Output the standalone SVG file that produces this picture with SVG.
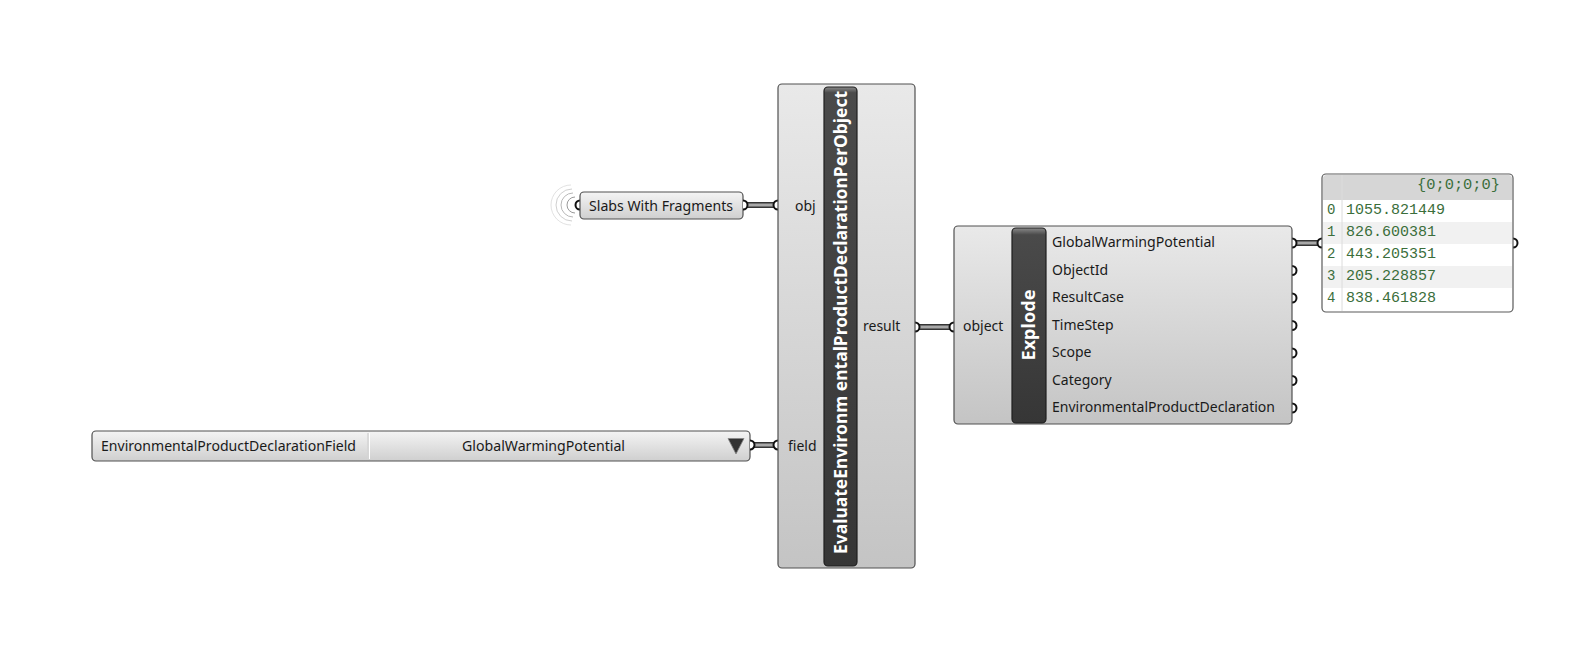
<svg xmlns="http://www.w3.org/2000/svg" width="1584" height="653" viewBox="0 0 1584 653">
  <defs>
    <linearGradient id="compBg" x1="0" y1="0" x2="0" y2="1">
      <stop offset="0" stop-color="#e9e9e9"/>
      <stop offset="1" stop-color="#c4c4c4"/>
    </linearGradient>
    <linearGradient id="paramBg" x1="0" y1="0" x2="0" y2="1">
      <stop offset="0" stop-color="#f4f4f4"/>
      <stop offset="1" stop-color="#cfcfcf"/>
    </linearGradient>
    <linearGradient id="barBg" x1="0" y1="0" x2="0" y2="1">
      <stop offset="0" stop-color="#8a8a8a"/>
      <stop offset="0.012" stop-color="#4a4a4a"/>
      <stop offset="1" stop-color="#363636"/>
    </linearGradient>
    <linearGradient id="barBgShort" x1="0" y1="0" x2="0" y2="1">
      <stop offset="0" stop-color="#8a8a8a"/>
      <stop offset="0.035" stop-color="#4a4a4a"/>
      <stop offset="1" stop-color="#363636"/>
    </linearGradient>
    <style>
      .box { stroke: #505050; stroke-width: 1.2; }
      .bar { stroke: #1e1e1e; stroke-width: 1.2; }
      .lbl { font-family: "Noto Sans", "Open Sans", "DejaVu Sans", sans-serif; font-size: 14px; fill: #1a1a1a; }
      .title { font-family: "Noto Sans", "Open Sans", "DejaVu Sans", sans-serif; font-size: 18px; font-weight: bold; fill: #ffffff; }
      .mono { font-family: "Liberation Mono", "Courier New", monospace; font-size: 14px; fill: #3b6e3b; }
      .port { fill: #ffffff; stroke: #111111; stroke-width: 2; }
      .wireOut { fill: none; stroke: #353535; stroke-width: 6; }
      .wireIn { fill: none; stroke: #a8a8a8; stroke-width: 3; }
      .ring { fill: none; stroke-width: 1; }
    </style>
  </defs>

  <rect width="1584" height="653" fill="#ffffff"/>

  <!-- wires between outputs and inputs -->
  <g id="connectors">
    <path class="wireOut" d="M743 205 H778"/>
    <path class="wireIn" d="M743 205 H778"/>
    <path class="wireOut" d="M750 445 H778"/>
    <path class="wireIn" d="M750 445 H778"/>
    <path class="wireOut" d="M915 327 H954"/>
    <path class="wireIn" d="M915 327 H954"/>
    <path class="wireOut" d="M1292 243 H1322"/>
    <path class="wireIn" d="M1292 243 H1322"/>
  </g>

  <!-- Slabs With Fragments parameter -->
  <g id="slabs-param">
    <path class="ring" stroke="#9a9a9a" d="M575 197 A8 8 0 0 0 575 213"/>
    <path class="ring" stroke="#b8b8b8" d="M573 193 A12 12 0 0 0 573 217"/>
    <path class="ring" stroke="#d0d0d0" d="M572 189 A16 16 0 0 0 572 221"/>
    <path class="ring" stroke="#e2e2e2" d="M571 185 A20 20 0 0 0 571 225"/>
    <path class="port" d="M580 200.5 A4.5 4.5 0 0 0 580 209.5"/>
    <rect class="box" x="580" y="192" width="163" height="27" rx="4" fill="url(#paramBg)"/>
    <path class="port" d="M743 200.5 A4.5 4.5 0 0 1 743 209.5"/>
    <text class="lbl" x="589" y="211" textLength="144" lengthAdjust="spacingAndGlyphs">Slabs With Fragments</text>
  </g>

  <!-- value list: field selector -->
  <g id="field-valuelist">
    <rect class="box" x="92" y="431" width="658" height="30" rx="4" fill="url(#paramBg)"/>
    <line x1="368" y1="433" x2="368" y2="459" stroke="#d4d4d4" stroke-width="1.5"/>
    <line x1="369.5" y1="433" x2="369.5" y2="459" stroke="#ffffff" stroke-width="1"/>
    <text class="lbl" x="101" y="450.5" textLength="255" lengthAdjust="spacingAndGlyphs">EnvironmentalProductDeclarationField</text>
    <text class="lbl" x="462" y="450.5" textLength="163" lengthAdjust="spacingAndGlyphs">GlobalWarmingPotential</text>
    <polygon points="728,438.5 744,438.5 736,454" fill="#333333" stroke="#888888" stroke-width="0.8"/>
    <path class="port" d="M750 440.5 A4.5 4.5 0 0 1 750 449.5"/>
  </g>

  <!-- EvaluateEnvironmentalProductDeclarationPerObject component -->
  <g id="evaluate-component">
    <path class="port" d="M778 200.5 A4.5 4.5 0 0 0 778 209.5"/>
    <path class="port" d="M778 440.5 A4.5 4.5 0 0 0 778 449.5"/>
    <path class="port" d="M915 322.5 A4.5 4.5 0 0 1 915 331.5"/>
    <rect class="box" x="778" y="84" width="137" height="484" rx="4" fill="url(#compBg)"/>
    <rect class="bar" x="824" y="87" width="33" height="479" rx="4" fill="url(#barBg)"/>
    <text class="title" transform="translate(847 554) rotate(-90)" textLength="463" lengthAdjust="spacingAndGlyphs">EvaluateEnvironm entalProductDeclarationPerObject</text>
    <text class="lbl" x="795" y="211">obj</text>
    <text class="lbl" x="788" y="451">field</text>
    <text class="lbl" x="863" y="331">result</text>
  </g>

  <!-- Explode component -->
  <g id="explode-component">
    <path class="port" d="M954 322.5 A4.5 4.5 0 0 0 954 331.5"/>
    <path class="port" d="M1292 238.5 A4.5 4.5 0 0 1 1292 247.5"/>
    <path class="port" d="M1292 266 A4.5 4.5 0 0 1 1292 275"/>
    <path class="port" d="M1292 293.5 A4.5 4.5 0 0 1 1292 302.5"/>
    <path class="port" d="M1292 321 A4.5 4.5 0 0 1 1292 330"/>
    <path class="port" d="M1292 348.5 A4.5 4.5 0 0 1 1292 357.5"/>
    <path class="port" d="M1292 376 A4.5 4.5 0 0 1 1292 385"/>
    <path class="port" d="M1292 403.5 A4.5 4.5 0 0 1 1292 412.5"/>
    <rect class="box" x="954" y="226" width="338" height="198" rx="4" fill="url(#compBg)"/>
    <rect class="bar" x="1012" y="228" width="34" height="195" rx="4" fill="url(#barBgShort)"/>
    <text class="title" transform="translate(1035 325) rotate(-90)" text-anchor="middle" textLength="71" lengthAdjust="spacingAndGlyphs">Explode</text>
    <text class="lbl" x="963" y="331">object</text>
    <text class="lbl" x="1052" y="247" textLength="163" lengthAdjust="spacingAndGlyphs">GlobalWarmingPotential</text>
    <text class="lbl" x="1052" y="274.5">ObjectId</text>
    <text class="lbl" x="1052" y="302">ResultCase</text>
    <text class="lbl" x="1052" y="329.5">TimeStep</text>
    <text class="lbl" x="1052" y="357">Scope</text>
    <text class="lbl" x="1052" y="384.5">Category</text>
    <text class="lbl" x="1052" y="412" textLength="223" lengthAdjust="spacingAndGlyphs">EnvironmentalProductDeclaration</text>
  </g>

  <!-- panel showing the list of values -->
  <g id="values-panel">
    <path class="port" d="M1322 238.5 A4.5 4.5 0 0 0 1322 247.5"/>
    <path class="port" d="M1513 238.5 A4.5 4.5 0 0 1 1513 247.5"/>
    <rect x="1322" y="174" width="191" height="138" rx="4" fill="#ffffff" stroke="#5a5a5a" stroke-width="1.2"/>
    <path d="M1323 200 V178 A3.5 3.5 0 0 1 1326.5 175 H1508.5 A3.5 3.5 0 0 1 1512 178 V200 Z" fill="#d6d6d6"/>
    <rect x="1323" y="222" width="189" height="22" fill="#f1f1f1"/>
    <rect x="1323" y="266" width="189" height="22" fill="#f1f1f1"/>
    <line x1="1342" y1="175" x2="1342" y2="311" stroke="#dcdcdc" stroke-width="1"/>
    <text class="mono" x="1500" y="189" text-anchor="end" textLength="83" lengthAdjust="spacingAndGlyphs">{0;0;0;0}</text>
    <text class="mono" x="1327" y="214">0</text>
    <text class="mono" x="1327" y="236">1</text>
    <text class="mono" x="1327" y="258">2</text>
    <text class="mono" x="1327" y="280">3</text>
    <text class="mono" x="1327" y="302">4</text>
    <text class="mono" x="1346" y="214" textLength="99" lengthAdjust="spacingAndGlyphs">1055.821449</text>
    <text class="mono" x="1346" y="236" textLength="90" lengthAdjust="spacingAndGlyphs">826.600381</text>
    <text class="mono" x="1346" y="258" textLength="90" lengthAdjust="spacingAndGlyphs">443.205351</text>
    <text class="mono" x="1346" y="280" textLength="90" lengthAdjust="spacingAndGlyphs">205.228857</text>
    <text class="mono" x="1346" y="302" textLength="90" lengthAdjust="spacingAndGlyphs">838.461828</text>
  </g>
</svg>
